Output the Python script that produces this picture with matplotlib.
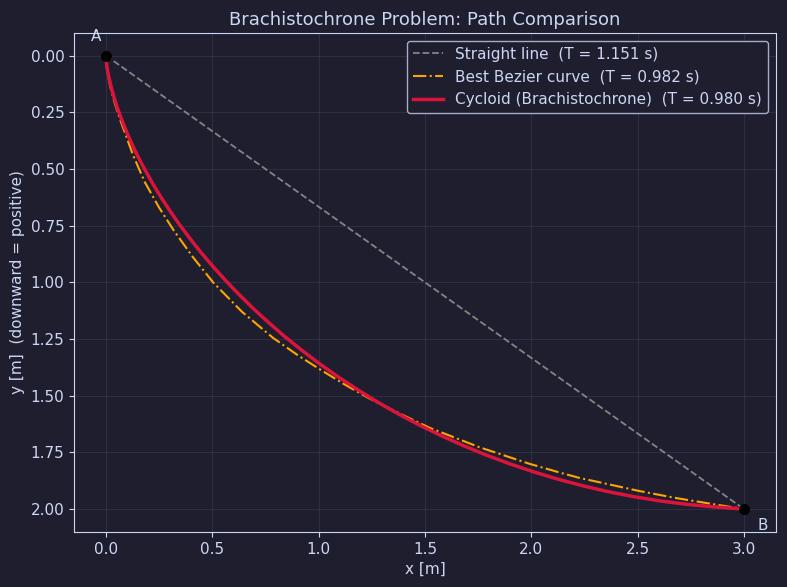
import matplotlib
matplotlib.use("Agg")
import matplotlib.pyplot as plt

# colours of the dark theme
BG = "#1e1e2e"
FG = "#cdd6f4"
GRID = "#45475a"

# end points
ax_pt = [0.0, 0.0]
bx_pt = [3.0, 2.0]

# straight line from A to B
line_x = [0.0, 3.0]
line_y = [0.0, 2.0]

# best bezier curve
bez_x = [0.0, 0.005, 0.02, 0.04, 0.066, 0.128, 0.183, 0.25, 0.319, 0.41, 0.504,
         0.64, 0.786, 0.903, 1.005, 1.12, 1.239, 1.38, 1.521, 1.756, 1.991,
         2.131, 2.225, 2.507, 2.68, 2.836, 3.0]
bez_y = [0.0, 0.06, 0.135, 0.205, 0.28, 0.44, 0.558, 0.67, 0.771, 0.89, 1.0,
         1.13, 1.245, 1.322, 1.383, 1.449, 1.512, 1.578, 1.641, 1.727, 1.800,
         1.838, 1.862, 1.920, 1.951, 1.975, 2.0]

# cycloid points (brachistochrone)
cyc_x = [0.0, 0.0003, 0.0011, 0.0026, 0.0051, 0.0087, 0.0138, 0.0206, 0.0292,
         0.0399, 0.0527, 0.0684, 0.0866, 0.1075, 0.1314, 0.1585, 0.1892, 0.2227,
         0.2600, 0.3010, 0.3456, 0.3941, 0.4463, 0.5025, 0.5625, 0.6265, 0.6944,
         0.7660, 0.8416, 0.9209, 1.0041, 1.0907, 1.1808, 1.2751, 1.3718, 1.4719,
         1.5752, 1.6812, 1.7904, 1.9015, 2.0153, 2.1310, 2.2489, 2.3683, 2.4893,
         2.6116, 2.7348, 2.8589, 2.9186, 3.0]
cyc_y = [0.0, 0.0078, 0.0175, 0.0311, 0.0484, 0.0695, 0.0942, 0.1224, 0.1541,
         0.1890, 0.2273, 0.2683, 0.3122, 0.3590, 0.4083, 0.4597, 0.5129, 0.5688,
         0.6261, 0.6847, 0.7448, 0.8055, 0.8675, 0.9293, 0.9917, 1.0542, 1.1168,
         1.1782, 1.2396, 1.2995, 1.3589, 1.4161, 1.4719, 1.5270, 1.5785, 1.6282,
         1.6756, 1.7202, 1.7624, 1.8011, 1.8370, 1.8695, 1.8987, 1.9243, 1.9463,
         1.9647, 1.9792, 1.9900, 1.9938, 2.0]

labels = ["Straight line  (T = 1.151 s)",
          "Best Bezier curve  (T = 0.982 s)",
          "Cycloid (Brachistochrone)  (T = 0.980 s)"]

fig, ax = plt.subplots(figsize=(7.87, 5.87), dpi=100)
fig.patch.set_facecolor(BG)
ax.set_facecolor(BG)

ax.plot(line_x, line_y, "--", color="#858585", lw=1.3, label=labels[0])
ax.plot(bez_x, bez_y, "-.", color="#ffa500", lw=1.5, label=labels[1])
ax.plot(cyc_x, cyc_y, "-", color="#dc143c", lw=2.5, label=labels[2])

ax.plot([ax_pt[0], bx_pt[0]], [ax_pt[1], bx_pt[1]], "o", color="black",
        markersize=7, zorder=5)
ax.text(ax_pt[0] - 0.045, ax_pt[1] - 0.085, "A", color=FG, fontsize=11,
        ha="center", va="center")
ax.text(bx_pt[0] + 0.09, bx_pt[1] + 0.07, "B", color=FG, fontsize=11,
        ha="center", va="center")

ax.set_xlim(-0.15, 3.15)
ax.set_ylim(2.1, -0.1)

ax.set_title("Brachistochrone Problem: Path Comparison", color=FG, fontsize=13)
ax.set_xlabel("x [m]", color=FG, fontsize=11)
ax.set_ylabel("y [m]  (downward = positive)", color=FG, fontsize=11)
ax.tick_params(colors=FG, labelsize=11)
for s in ax.spines.values():
    s.set_color(FG)
ax.grid(True, color=GRID, alpha=0.4, lw=0.8)

leg = ax.legend(loc="upper right", fontsize=11, facecolor=BG, edgecolor="#a6adc8",
                framealpha=1.0)
for t in leg.get_texts():
    t.set_color(FG)

plt.subplots_adjust(left=0.094, right=0.986, top=0.944, bottom=0.094)
plt.savefig("out.png", facecolor=BG)
